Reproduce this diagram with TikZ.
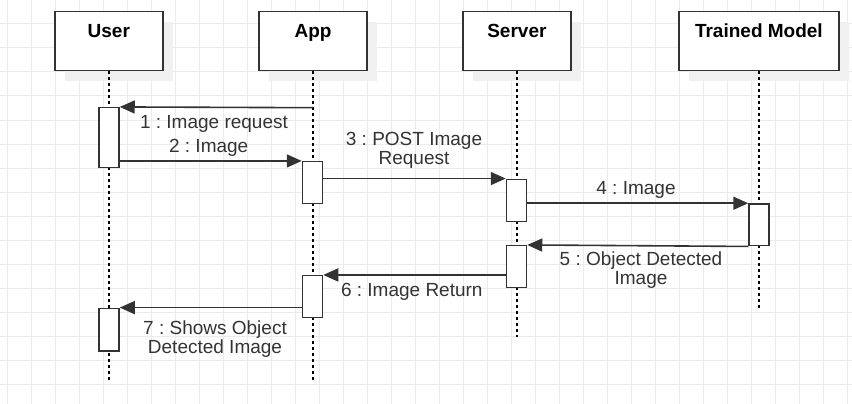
\documentclass[tikz,border=0pt]{standalone}
\usepackage{fontspec}
\setmainfont{Liberation Sans}
\frenchspacing
\usetikzlibrary{arrows.meta,shadows}
\definecolor{linegray}{HTML}{333333}
\definecolor{gridgray}{HTML}{EBEBEB}
\definecolor{shadowgray}{HTML}{F0F0F0}
\tikzset{
    actor/.style={draw=linegray, line width=1.5pt, fill=white, minimum width=108pt, minimum height=59pt, inner sep=0pt,
        general shadow={fill=shadowgray, shadow xshift=10pt, shadow yshift=-10pt}},
    actortext/.style={font=\fontsize{19}{19}\selectfont\bfseries, anchor=base, yshift=-27pt},
    bar/.style={draw=linegray, line width=1.5pt, fill=white, minimum width=20pt, inner sep=0pt},
    life/.style={dash pattern=on 3pt off 3pt, line width=1.2pt},
    msg/.style={draw=linegray, line width=1.6pt, -{Triangle[length=15pt,width=13pt]}},
    msgtext/.style={text=linegray, align=center, font=\fontsize{19}{19}\selectfont, inner sep=0pt}
}
\begin{document}
\begin{tikzpicture}[x=1pt, y=-1pt]
    \useasboundingbox (0,0) rectangle (852,404);
    \foreach \i in {0,...,35}
        \draw[gridgray, line width=1pt] ({7.7+24*\i},0) -- ({7.7+24*\i},404);
    \foreach \j in {0,...,16}
        \draw[gridgray, line width=1pt] (0,{24*\j}) -- (852,{24*\j});

    \node[actor, label={[actortext]north:User}] (user) at (108.8,41.2) {};
    \node[actor, label={[actortext]north:App}] (app) at (313,41.2) {};
    \node[actor, label={[actortext]north:Server}] (server) at (516.9,41.2) {};
    \node[actor, minimum width=160pt, label={[actortext]north:Trained Model}] (model) at (758.9,41.2) {};

    \coordinate (userend) at (109,380);
    \coordinate (append) at (313,380);
    \coordinate (serverend) at (517,336.7);
    \coordinate (modelend) at (759,310);
    \draw[life] (user.south -| userend) -- (userend);
    \draw[life] (app.south -| append) -- (append);
    \draw[life] (server.south -| serverend) -- (serverend);
    \draw[life] (model.south -| modelend) -- (modelend);

    \node[bar, minimum height=60pt] (userA) at (109,137.7) {};
    \node[bar, minimum height=42.7pt] (userB) at (109,329.7) {};
    \node[bar, minimum height=41.6pt] (appA) at (312.5,182.5) {};
    \node[bar, minimum height=42pt] (appB) at (312.5,296.7) {};
    \node[bar, minimum height=42.4pt] (serverA) at (516.5,200.5) {};
    \node[bar, minimum height=42pt] (serverB) at (516.5,266.7) {};
    \node[bar, minimum height=41.7pt] (modelA) at (759,224.85) {};

    \coordinate (req) at (313,107.7);
    \draw[msg] (req) -- (userA.north east);
    \draw[msg] (userA.east |- appA.north) -- (appA.north west);
    \draw[msg] (appA.east |- serverA.north) -- (serverA.north west);
    \draw[msg] (serverA.east |- modelA.north) -- (modelA.north west);
    \draw[msg] (modelA.south west) -- (serverB.north east);
    \draw[msg] (serverB.west |- appB.north) -- (appB.north east);
    \draw[msg] (appB.west |- userB.north) -- (userB.north east);

    \node[msgtext] (m1) at (214,124) {1 : Image request};
    \node[msgtext] (m2) at (208.7,148) {2 : Image};
    \node[msgtext] (m3) at (414,150) {3 : POST Image\\Request};
    \node[msgtext] (m4) at (636,189.5) {4 : Image};
    \node[msgtext] (m5) at (641,270.5) {5 : Object Detected\\Image};
    \node[msgtext] (m6) at (411.8,291.5) {6 : Image Return};
    \node[msgtext] (m7) at (215,339) {7 : Shows Object\\Detected Image};
\end{tikzpicture}
\end{document}
